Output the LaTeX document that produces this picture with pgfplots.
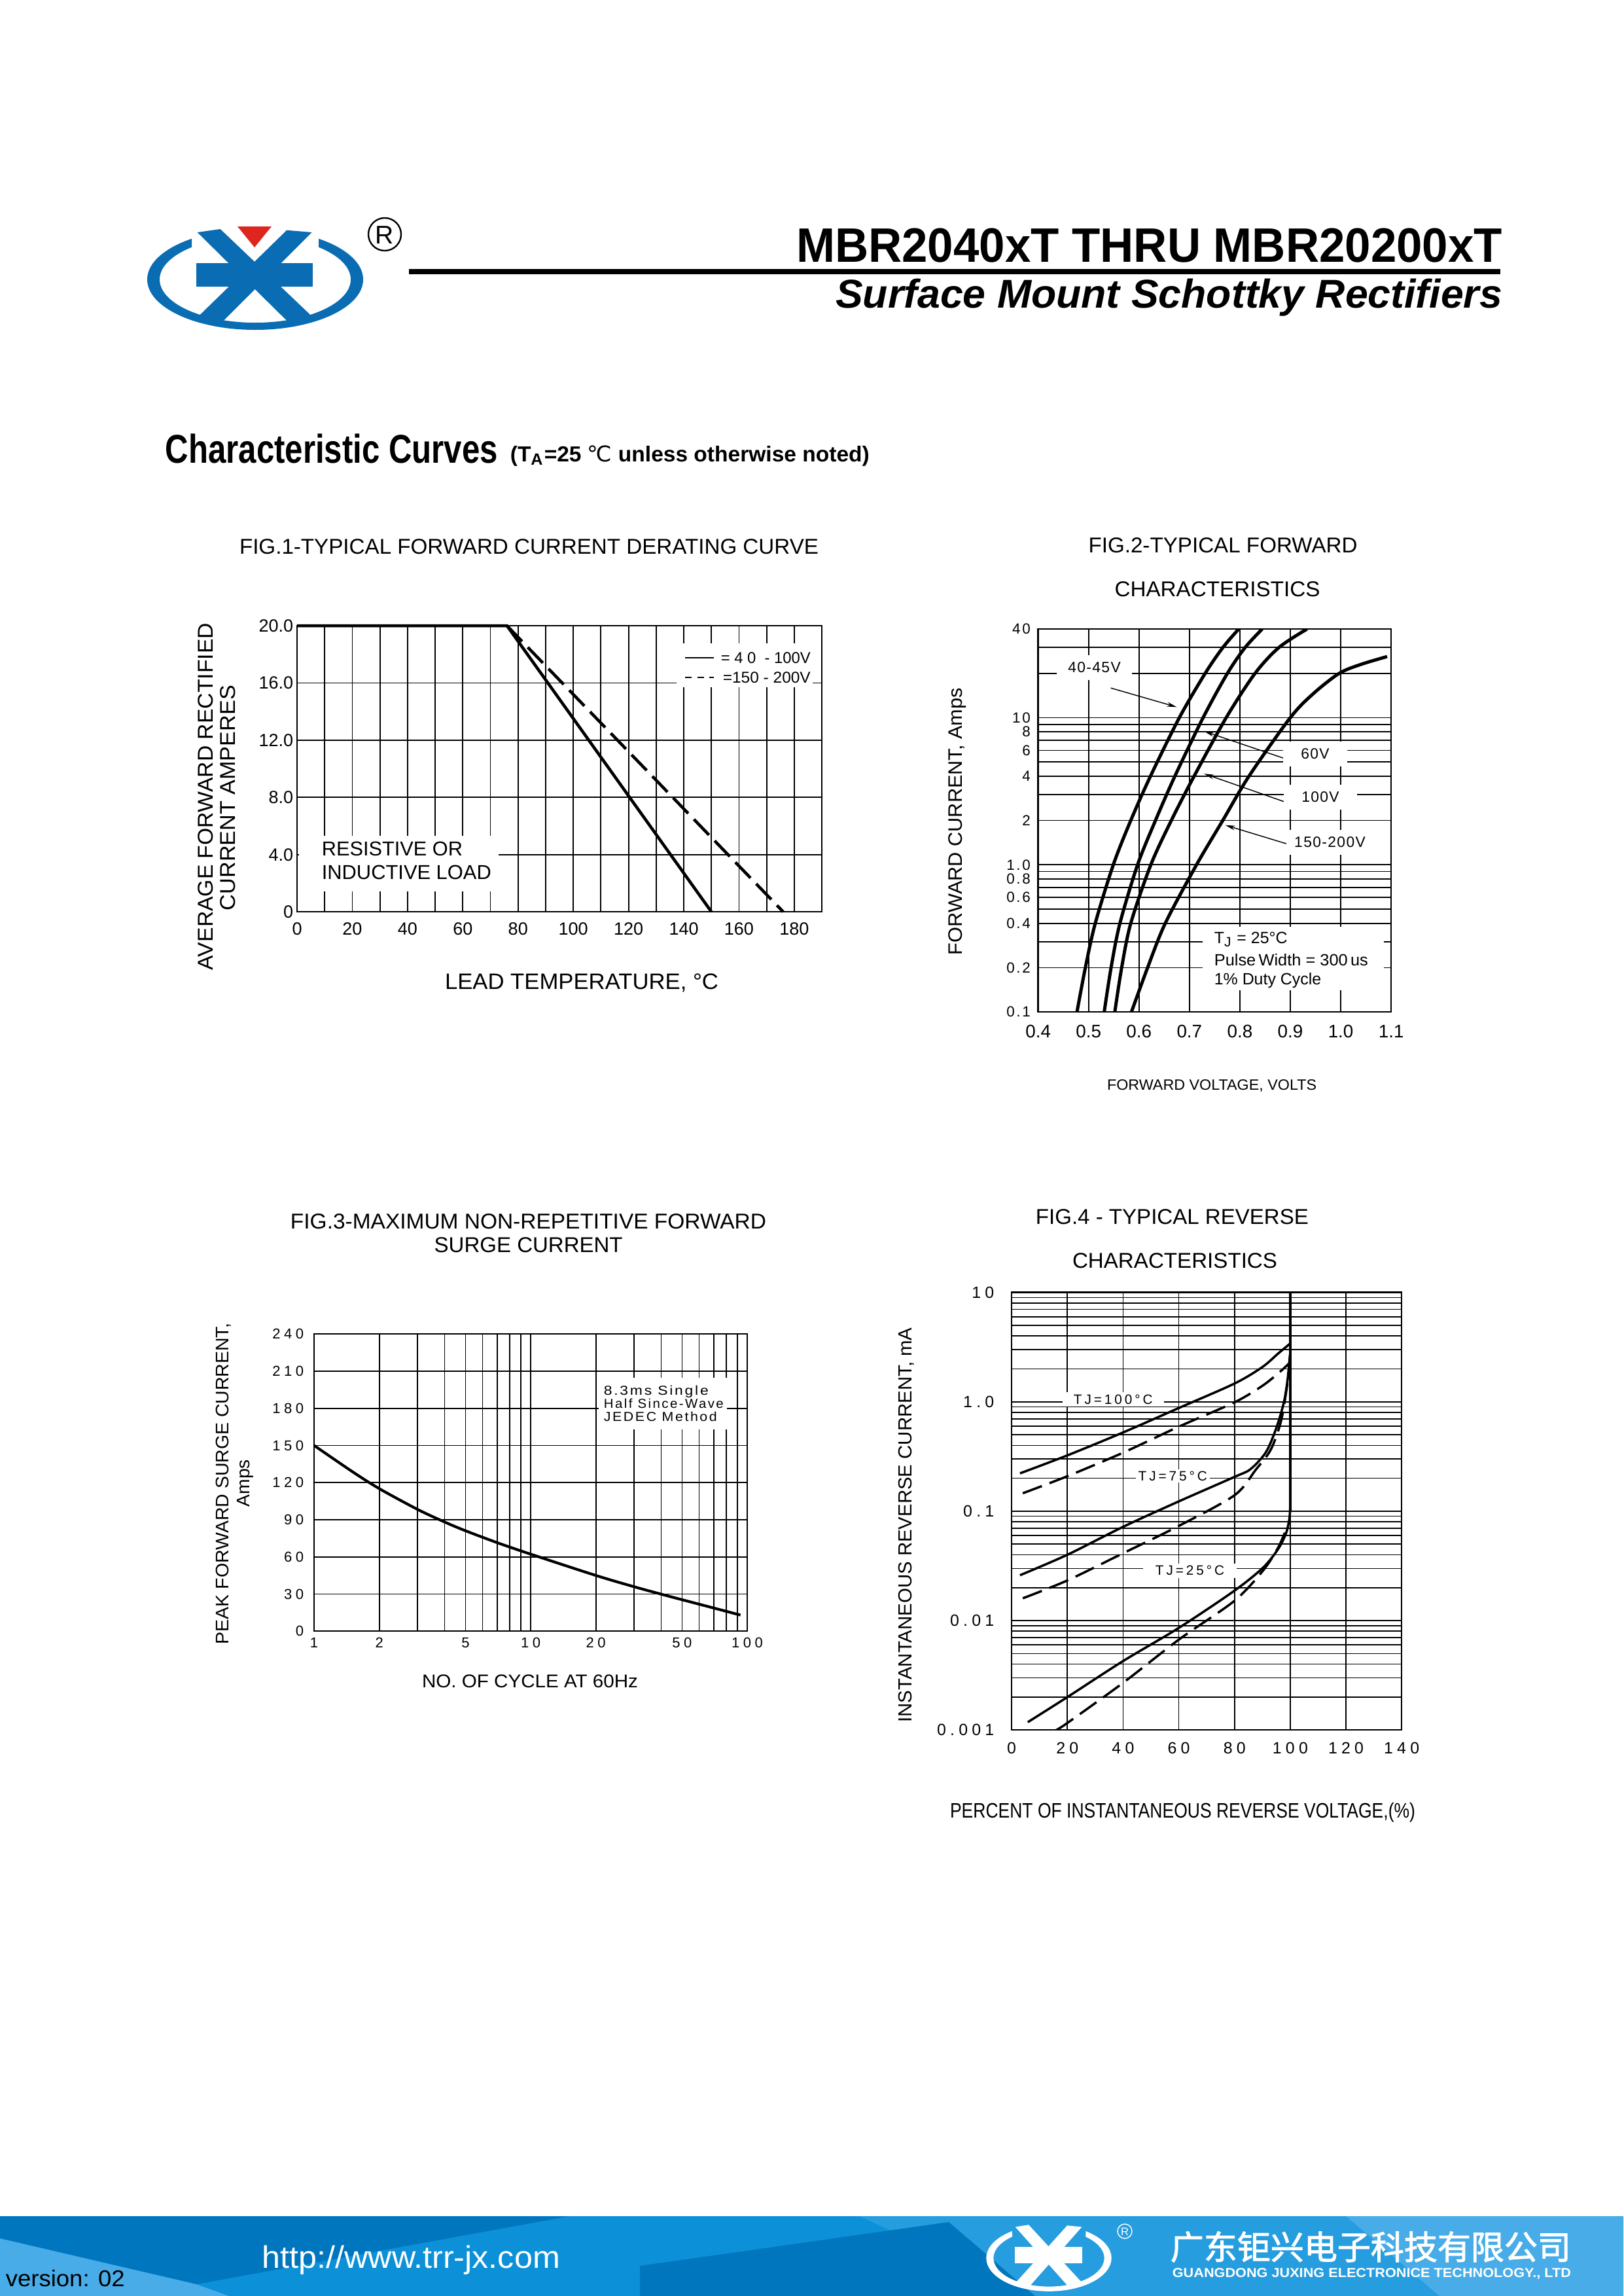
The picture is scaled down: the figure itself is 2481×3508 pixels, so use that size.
\documentclass[border=0pt]{standalone}
\usepackage{fontspec}
\setmainfont{Liberation Sans}
\usepackage{graphicx}
\usepackage{pgfplots}
\pgfplotsset{compat=1.18}
\usetikzlibrary{arrows.meta}
\newfontfamily\dejavu{DejaVu Sans}
\newfontfamily\cjk[FakeBold=2]{Noto Sans CJK SC}
\newfontfamily\ftS[LetterSpace=12]{Liberation Sans}
\newfontfamily\ftW[LetterSpace=25]{Liberation Sans}
\newfontfamily\ftL[LetterSpace=19]{Liberation Sans}
\newfontfamily\ftT[LetterSpace=6]{Liberation Sans}
\newfontfamily\ftB[LetterSpace=12]{Liberation Sans}
\newcommand\fs[1]{\fontsize{#1}{#1}\selectfont}
\newdimen\pxu \pxu=0.0846432mm
\newcommand\RS[2]{\resizebox{#1\pxu}{\height}{#2}}
\definecolor{logoblue}{RGB}{10,108,178}
\definecolor{logored}{RGB}{222,38,30}
\definecolor{footbase}{RGB}{12,144,216}
\definecolor{footdark}{RGB}{0,118,190}
\definecolor{footmid}{RGB}{38,157,223}
\definecolor{footlight}{RGB}{72,172,232}
\tikzset{pg/.style={x=0.0846432mm, y=-0.0846432mm}}
\newcommand\jxlogo[2]{%
 \begin{scope}
 \clip (-200,-100) rectangle (-97,100) (97,-100) rectangle (200,100) (-97,-40) rectangle (97,100);
 \fill[#1,even odd rule] (0,0) ellipse [x radius=165, y radius=77] (0,0) ellipse [x radius=146, y radius=66];
 \end{scope}
 \fill[#1] (-88.3,-72) -- (-53.3,-77) -- (86.7,56.3) -- (51.7,66.3) -- cycle;
 \fill[#1] (48.3,-75.3) -- (86.7,-72) -- (-51.7,66.3) -- (-86.7,56.3) -- cycle;
 \fill[#1] (-90,-25.3) rectangle (88,11.3);
 \fill[#2] (-27,-81) -- (25,-81) -- (-1,-49) -- cycle;
}
\begin{document}
\begin{tikzpicture}
\begin{scope}[pg]
\fill[white] (0,0) rectangle (2481,3508);
% ---------------- header
\begin{scope}[shift={(390,427)}]\jxlogo{logoblue}{logored}\end{scope}
\draw[line width=0.2mm] (588,358) circle [radius=25];
\node[inner sep=0] at (588,359) {\fs{9.4}R};
\fill (625,411) rectangle (2293,419);
\node[anchor=base east, inner sep=0] at (2297,400) {\RS{1079}{\fs{17.8}\bfseries MBR2040xT THRU MBR20200xT}};
\node[anchor=base east, inner sep=0] at (2297,470) {\RS{1019}{\fs{14.8}\bfseries\itshape Surface Mount Schottky Rectifiers}};
\node[anchor=base west, inner sep=0] at (252,707) {\RS{508}{\fs{14.8}\bfseries Characteristic Curves}};
\node[anchor=base west, inner sep=0] at (779,705) {\RS{549}{\fs{8}\bfseries (T\textsubscript{A}=25 {\dejavu\mdseries ℃} unless otherwise noted)}};
% ---------------- titles
\node[anchor=base, inner sep=0] at (808.5,846) {\RS{885}{\fs{7.9}FIG.1-TYPICAL FORWARD CURRENT DERATING CURVE}};
\node[anchor=base, inner sep=0] at (1869,844.5) {\RS{411}{\fs{7.9}FIG.2-TYPICAL FORWARD}};
\node[anchor=base, inner sep=0] at (1860.5,911.7) {\RS{314}{\fs{7.9}CHARACTERISTICS}};
\node[anchor=base, inner sep=0] at (807.5,1877) {\RS{727}{\fs{7.9}FIG.3-MAXIMUM NON-REPETITIVE FORWARD}};
\node[anchor=base, inner sep=0] at (807.7,1913) {\RS{288}{\fs{7.9}SURGE CURRENT}};
\node[anchor=base, inner sep=0] at (1791.4,1870) {\RS{417}{\fs{7.9}FIG.4 - TYPICAL REVERSE}};
\node[anchor=base, inner sep=0] at (1795.5,1937.5) {\RS{313}{\fs{7.9}CHARACTERISTICS}};
\end{scope}
% ---------------- FIG 1
\begin{axis}[at={(38.428mm,-80.919mm)}, anchor=north west, scale only axis, width=67.884mm, height=36.989mm,
 xmin=0, xmax=190, ymin=0, ymax=20, clip=false,
 xtick={0,20,40,60,80,100,120,140,160,180}, minor xtick={10,30,50,70,90,110,130,150,170},
 ytick={0,4,8,12,16,20}, yticklabels={0,4.0,8.0,12.0,16.0,20.0},
 grid=both, major grid style={black,line width=0.45pt}, minor grid style={black,line width=0.45pt},
 axis line style={line width=0.6pt}, major tick length=0pt, minor tick length=0pt,
 /pgf/number format/assume math mode=true,
 ticklabel style={font={\fs{6.5}}, inner sep=0pt},
 xticklabel style={anchor=base, yshift=-2.96mm},
 yticklabel style={anchor=east, xshift=-0.42mm}]
\addplot[black, line width=1.1pt] coordinates {(0,20) (76,20) (150,0)};
\addplot[black, line width=1.1pt, dash pattern=on 8pt off 3pt] coordinates {(76,20) (176,0)};
\end{axis}
\begin{scope}[pg]
\fill[white] (1034,983) rectangle (1242,1050);
\draw[line width=0.6pt] (1047,1005) -- (1091,1005);
\draw[line width=0.6pt, dash pattern=on 2.5pt off 2pt] (1047,1035) -- (1091,1035);
\node[anchor=base west, inner sep=0] at (1101,1013) {\RS{137}{\fs{5.8}= 4 0\ \ - 100V}};
\node[anchor=base west, inner sep=0] at (1104,1043) {\RS{134}{\fs{5.8}=150 - 200V}};
\fill[white] (457,1277) rectangle (762,1362);
\node[anchor=base west, inner sep=0] at (491,1307) {\fs{7.4}RESISTIVE OR};
\node[anchor=base west, inner sep=0] at (491,1343.5) {\RS{259}{\fs{7.4}INDUCTIVE LOAD}};
\node[anchor=base, inner sep=0] at (889,1511) {\RS{418}{\fs{8.2}LEAD TEMPERATURE, °C}};
\node[anchor=base, inner sep=0, rotate=90] at (325,1217) {\RS{530}{\fs{7.9}AVERAGE FORWARD RECTIFIED}};
\node[anchor=base, inner sep=0, rotate=90] at (359,1219) {\RS{344}{\fs{7.9}CURRENT AMPERES}};
\end{scope}
% ---------------- FIG 2
\begin{axis}[at={(134.286mm,-81.342mm)}, anchor=north west, scale only axis, width=45.665mm, height=49.516mm,
 xmin=0.4, xmax=1.1, ymode=log, ymin=0.1, ymax=40,
 xtick={0.4,0.5,0.6,0.7,0.8,0.9,1.0,1.1}, xticklabels={0.4,0.5,0.6,0.7,0.8,0.9,1.0,1.1},
 ytick={0.1,0.2,0.4,0.6,0.8,1,2,4,6,8,10,40}, yticklabels={0.1,0.2,0.4,0.6,0.8,1.0,2,4,6,8,10,40},
 minor ytick={0.3,0.5,0.7,0.9,3,5,7,9,20,30},
 grid=both, major grid style={black,line width=0.4pt}, minor grid style={black,line width=0.4pt},
 axis line style={line width=0.6pt}, major tick length=0pt, minor tick length=0pt,
 /pgf/number format/assume math mode=true,
 xticklabel style={font={\fs{6.7}}, inner sep=0pt, anchor=base, yshift=-3.3mm},
 yticklabel style={font={\ftS\fs{5.4}}, inner sep=0pt, anchor=east, xshift=-0.93mm}]
\addplot[smooth, line width=1.2pt] coordinates {(0.477,0.1) (0.4936,0.2) (0.5132,0.4) (0.549,1) (0.5836,2) (0.6227,4) (0.680,10) (0.7312,20) (0.7664,30) (0.7977,40)};
\addplot[smooth, line width=1.2pt] coordinates {(0.531,0.1) (0.5446,0.2) (0.5621,0.4) (0.5971,1) (0.6326,2) (0.6711,4) (0.7271,10) (0.7753,20) (0.8105,30) (0.8443,40)};
\addplot[smooth, line width=1.2pt] coordinates {(0.552,0.1) (0.5656,0.2) (0.5836,0.4) (0.6234,1) (0.664,2) (0.7092,4) (0.7729,10) (0.8301,20) (0.8776,30) (0.9331,40)};
\addplot[smooth, line width=1.2pt] coordinates {(0.585,0.1) (0.617,0.2) (0.652,0.4) (0.714,1) (0.766,2) (0.818,4) (0.9,10) (0.946,14.6) (0.997,20) (1.04,23) (1.092,26)};
\draw[-{Stealth[length=1.3mm,width=0.6mm]}, line width=0.35pt] (axis cs:0.544,15.9) -- (axis cs:0.675,11.8);
\draw[-{Stealth[length=1.3mm,width=0.6mm]}, line width=0.35pt] (axis cs:0.894,5.2) -- (axis cs:0.729,8.08);
\draw[-{Stealth[length=1.3mm,width=0.6mm]}, line width=0.35pt] (axis cs:0.894,2.64) -- (axis cs:0.729,4.16);
\draw[-{Stealth[length=1.3mm,width=0.6mm]}, line width=0.35pt] (axis cs:0.894,1.385) -- (axis cs:0.771,1.86);
\end{axis}
\begin{scope}[pg]
\node[fill=white, inner xsep=1.45mm, inner ysep=0.9mm] at (1672.5,1020) {\ftT\fs{5.5}40-45V};
\node[fill=white, inner xsep=2.3mm, inner ysep=0.9mm] at (2010,1152) {\ftT\fs{5.5}60V};
\node[fill=white, inner xsep=2.3mm, inner ysep=0.9mm] at (2018,1218) {\ftT\fs{5.5}100V};
\node[fill=white, inner xsep=1.0mm, inner ysep=0.9mm] at (2032.5,1287) {\ftT\fs{5.5}150-200V};
\fill[white] (1838,1416) rectangle (2115,1513);
\node[anchor=base west, inner sep=0] at (1855,1441) {\fs{6}T\textsubscript{J} = 25°C};
\node[anchor=base west, inner sep=0] at (1855,1475) {\RS{235}{\fs{6}Pulse\,Width = 300\,us}};
\node[anchor=base west, inner sep=0] at (1855,1504) {\fs{6}1\% Duty Cycle};
\node[anchor=base, inner sep=0] at (1852,1665) {\RS{320}{\fs{5.5}FORWARD VOLTAGE, VOLTS}};
\node[anchor=base, inner sep=0, rotate=90] at (1470,1255) {\RS{408}{\fs{7.2}FORWARD CURRENT, Amps}};
\end{scope}
% ---------------- FIG 3
\begin{axis}[at={(40.629mm,-172.503mm)}, anchor=north west, scale only axis, width=56.034mm, height=38.428mm,
 xmode=log, xmin=1, xmax=100, ymin=0, ymax=240,
 xtick={1,2,5,10,20,50,100}, xticklabels={1,2,5,10,20,50,100},
 minor xtick={3,4,6,7,8,9,30,40,60,70,80,90},
 ytick={0,30,60,90,120,150,180,210,240},
 grid=both, major grid style={black,line width=0.4pt}, minor grid style={black,line width=0.4pt},
 axis line style={line width=0.6pt}, major tick length=0pt, minor tick length=0pt,
 /pgf/number format/assume math mode=true,
 ticklabel style={font={\ftW\fs{5.3}}, inner sep=0pt},
 xticklabel style={anchor=base, yshift=-2.12mm},
 yticklabel style={anchor=east, xshift=-1.27mm}]
\addplot[smooth, line width=1.0pt] coordinates {(1,150) (1.5,128.9) (2,115.1) (3,98.4) (4,88.2) (5,81.1) (7,71.5) (10,62.2) (20,45) (30,35.9) (40,29.9) (50,25.4) (70,18.7) (93,13)};
\end{axis}
\begin{scope}[pg]
\fill[white] (914.5,2105) rectangle (1111,2184);
\node[anchor=base west, inner sep=0] at (922,2131) {\RS{160}{\ftB\fs{4.8}8.3ms Single}};
\node[anchor=base west, inner sep=0] at (922,2151) {\RS{183}{\ftB\fs{4.8}Half Since-Wave}};
\node[anchor=base west, inner sep=0] at (922,2171) {\RS{173}{\ftB\fs{4.8}JEDEC Method}};
\node[anchor=base, inner sep=0] at (810,2578) {\RS{330}{\fs{6.8}NO. OF CYCLE AT 60Hz}};
\node[anchor=base, inner sep=0, rotate=90] at (349,2267) {\RS{490}{\fs{6.7}PEAK FORWARD SURGE CURRENT,}};
\node[anchor=base, inner sep=0, rotate=90] at (381,2266) {\RS{72}{\fs{6.7}Amps}};
\end{scope}
% ---------------- FIG 4
\begin{axis}[at={(130.858mm,-167.128mm)}, anchor=north west, scale only axis, width=50.447mm, height=56.584mm,
 xmin=0, xmax=140, ymode=log, ymin=0.001, ymax=10,
 xtick={0,20,40,60,80,100,120,140},
 ytick={0.001,0.01,0.1,1,10}, yticklabels={0.001,0.01,0.1,1.0,10},
 minor ytick={0.002,0.003,0.004,0.005,0.006,0.007,0.008,0.009,0.02,0.03,0.04,0.05,0.06,0.07,0.08,0.09,0.2,0.3,0.4,0.5,0.6,0.7,0.8,0.9,2,3,4,5,6,7,8,9},
 grid=both, major grid style={black,line width=0.4pt}, minor grid style={black,line width=0.4pt},
 axis line style={line width=0.6pt}, major tick length=0pt, minor tick length=0pt,
 /pgf/number format/assume math mode=true,
 ticklabel style={font={\ftW\fs{6}}, inner sep=0pt},
 xticklabel style={anchor=base, yshift=-3.05mm},
 yticklabel style={anchor=east, xshift=-2.2mm}]
\addplot[smooth, line width=0.85pt] coordinates {(3,0.222) (20,0.324) (40,0.525) (60,0.878) (80,1.47) (90,2.08) (95.7,2.77) (99.9,3.4)};
\addplot[smooth, line width=0.85pt, dash pattern=on 7.5pt off 3pt] coordinates {(4,0.146) (20,0.209) (40,0.343) (60,0.593) (80,0.99) (90,1.4) (96.2,1.87) (100,2.3)};
\addplot[smooth, line width=0.85pt] coordinates {(3,0.026) (20,0.040) (40,0.072) (60,0.123) (80,0.206) (85.7,0.242) (91.2,0.344) (94.8,0.557) (97.6,0.96) (99,1.56) (99.9,2.7)};
\addplot[smooth, line width=0.85pt, dash pattern=on 7.5pt off 3pt] coordinates {(4,0.016) (20,0.0233) (40,0.0413) (60,0.0734) (80,0.14) (87.6,0.239) (93,0.365) (96.7,0.668) (99,1.47) (99.8,2.2)};
\addplot[smooth, line width=0.85pt] coordinates {(5.8,0.00118) (20,0.002) (40,0.00427) (60,0.00858) (80,0.0188) (90.3,0.0306) (95.7,0.0453) (98.5,0.063) (99.7,0.0855) (100,0.11)};
\addplot[smooth, line width=0.85pt, dash pattern=on 7.5pt off 3pt] coordinates {(16,0.001) (20,0.00116) (40,0.0027) (60,0.0067) (80,0.0152) (90.3,0.0288) (95.7,0.0467) (98.5,0.068)};
\addplot[line width=1.1pt] coordinates {(100,0.1) (100,10)};
\end{axis}
\begin{scope}[pg]
\node[fill=white, minimum width=154.6\pxu, minimum height=22\pxu, inner sep=0] at (1701.3,2138) {\ftL\fs{5}TJ=100°C};
\node[fill=white, minimum width=113.5\pxu, minimum height=20\pxu, inner sep=0] at (1792.3,2255.4) {\ftL\fs{5}TJ=75°C};
\node[fill=white, minimum width=143\pxu, minimum height=22\pxu, inner sep=0] at (1818.5,2399.6) {\ftL\fs{5}TJ=25°C};
\node[anchor=base, inner sep=0] at (1807.5,2777) {\RS{711}{\fs{7.7}PERCENT OF INSTANTANEOUS REVERSE VOLTAGE,(\%)}};
\node[anchor=base, inner sep=0, rotate=90] at (1393,2330) {\RS{603}{\fs{7}INSTANTANEOUS REVERSE CURRENT, mA}};
% ---------------- footer
\fill[footbase] (0,3386) rectangle (2481,3508);
\fill[footdark] (0,3386) -- (870,3386) -- (300,3490) -- (0,3420) -- cycle;
\fill[footlight] (0,3420) -- (300,3490) -- (350,3508) -- (0,3508) -- cycle;
\fill[footmid] (1313,3386) -- (2057,3386) -- (2200,3508) -- (1582,3508) -- cycle;
\fill[footdark] (978,3508) -- (978,3462) -- (1450,3395) -- (1582,3508) -- cycle;
\fill[footlight] (2057,3386) -- (2481,3386) -- (2481,3508) -- (2200,3508) -- cycle;
\node[anchor=base west, inner sep=0] at (8,3493) {\RS{182}{\fs{8.4}version: 02}};
\node[anchor=base west, inner sep=0, text=white] at (400,3465) {\RS{455}{\fs{11.5}http://www.trr-jx.com}};
\begin{scope}[shift={(1603,3450)}, xscale=0.58, yscale=0.66]\jxlogo{white}{fill=none}\end{scope}
\draw[white, line width=0.12mm] (1719,3409) circle [radius=11];
\node[inner sep=0, text=white] at (1719,3409.5) {\fs{4}R};
\node[anchor=base west, inner sep=0, text=white] at (1788,3452) {\RS{612}{\cjk\fs{12.2}广东钜兴电子科技有限公司}};
\node[anchor=base west, inner sep=0, text=white] at (1791,3479) {\RS{609}{\bfseries\fs{4.8}GUANGDONG JUXING ELECTRONICE TECHNOLOGY., LTD}};
\end{scope}
\pgfresetboundingbox
\path[pg] (0,0) rectangle (2481,3508);
\end{tikzpicture}
\end{document}
